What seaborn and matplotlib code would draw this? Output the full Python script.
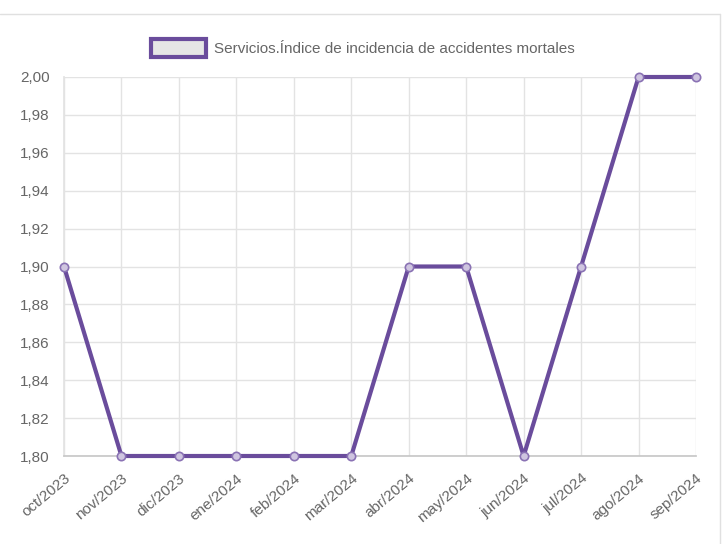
"""
Servicios - índice de incidencia de accidentes mortales
"""
import numpy as np
import pandas as pd
import matplotlib
matplotlib.use('Agg')
import matplotlib.pyplot as plt
import seaborn as sns
from matplotlib.ticker import FuncFormatter, MultipleLocator
from matplotlib.lines import Line2D

months = ['oct/2023', 'nov/2023', 'dic/2023', 'ene/2024', 'feb/2024', 'mar/2024',
          'abr/2024', 'may/2024', 'jun/2024', 'jul/2024', 'ago/2024', 'sep/2024']
values = [1.90, 1.80, 1.80, 1.80, 1.80, 1.80, 1.90, 1.90, 1.80, 1.90, 2.00, 2.00]
series_name = 'Servicios.Índice de incidencia de accidentes mortales'

purple = '#6a4c9c'
text_grey = '#666666'

sns.set_theme(style='white')
plt.rcParams['font.family'] = ['Liberation Sans Narrow', 'Liberation Sans', 'DejaVu Sans']

df = pd.DataFrame({'mes': months, 'valor': values})
df['pos'] = np.arange(len(df))

fig = plt.figure(figsize=(7.26, 5.44), dpi=100)
ax = fig.add_axes([64 / 726, 88 / 544, 632 / 726, 379 / 544])

sns.lineplot(data=df, x='pos', y='valor', color=purple, linewidth=3, ax=ax,
             marker='o', markersize=6, markerfacecolor='#cfc5e0',
             markeredgecolor='#8a72b4', markeredgewidth=1.2, clip_on=False, zorder=3)

ax.set_xlim(0, len(months) - 1)
ax.set_ylim(1.80, 2.00)
ax.yaxis.set_major_locator(MultipleLocator(0.02))
ax.yaxis.set_major_formatter(FuncFormatter(lambda v, _: f'{v:.2f}'.replace('.', ',')))
ax.set_xticks(df['pos'])
ax.set_xticklabels(months, rotation=40, ha='right', rotation_mode='anchor')
ax.set_xlabel('')
ax.set_ylabel('')

ax.grid(True, color='#e3e3e3', linewidth=1)
ax.tick_params(axis='both', colors='#dddddd', length=7, width=1,
               labelcolor=text_grey, labelsize=11)
ax.tick_params(axis='x', pad=4)
for side in ['top', 'right']:
    ax.spines[side].set_visible(False)
ax.spines['left'].set_color('#e3e3e3')
ax.spines['bottom'].set_color('#c8c8c8')

handle = plt.Rectangle((0, 0), 1, 1, facecolor='#e6e6e6', edgecolor=purple, linewidth=3)
leg = fig.legend([handle], [series_name], loc='center', bbox_to_anchor=(0.5, 1 - 48 / 544),
                 frameon=False, fontsize=11, handlelength=3.6, handleheight=1.5,
                 handletextpad=0.5)
for t in leg.get_texts():
    t.set_color(text_grey)

# outer chart border
fig.add_artist(Line2D([0, 720 / 726], [1 - 14 / 544, 1 - 14 / 544],
                      color='#e0e0e0', linewidth=1, transform=fig.transFigure))
fig.add_artist(Line2D([720 / 726, 720 / 726], [0, 1 - 14 / 544],
                      color='#e0e0e0', linewidth=1, transform=fig.transFigure))

fig.savefig('out.png', dpi=100)
